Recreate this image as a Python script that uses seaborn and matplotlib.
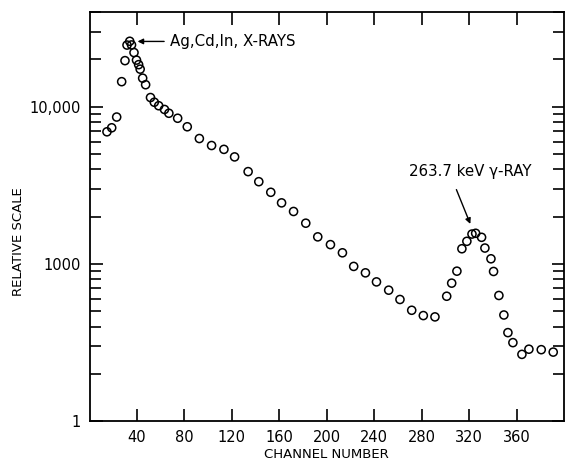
import numpy as np
import pandas as pd
import seaborn as sns
import matplotlib.pyplot as plt
from matplotlib.ticker import LogLocator, NullFormatter

# values
channel = [14.7, 18.7, 22.9, 27.1, 29.9, 31.6, 33.9, 35.4, 37.5, 39.6, 41.4, 42.7, 44.8,
           47.3, 51.4, 54.6, 58.3, 63.2, 66.9, 74.3, 82.4, 92.6, 102.9, 113.3, 122.3,
           133.7, 142.7, 152.8, 161.9, 172, 182.3, 192.4, 203.1, 213.2, 222.7, 232.6,
           241.9, 252.2, 261.7, 271.6, 281.4, 291.2, 301.1, 305.3, 309.7, 313.9, 318.1,
           322.4, 325.5, 330.5, 333.3, 338.4, 340.6, 345.1, 349.3, 352.7, 356.9, 364.5,
           370.4, 380.8, 390.9]
counts = [6930, 7350, 8600, 14430, 19630, 24650, 26060, 24700, 22090, 19780, 18510,
          17330, 15190, 13800, 11440, 10680, 10150, 9610, 9090, 8450, 7460, 6280, 5670,
          5360, 4800, 3870, 3340, 2860, 2450, 2160, 1820, 1490, 1330, 1180, 967, 880,
          771, 683, 596, 509, 471, 462, 625, 757, 902, 1252, 1396, 1552, 1570, 1480,
          1265, 1081, 898, 632, 475, 367, 317, 267, 288, 286, 276]

x_ticks = [40, 80, 120, 160, 200, 240, 280, 320, 360]
y_ticks = [100, 1000, 10000]
y_labels = ["1", "1000", "10,000"]

df = pd.DataFrame({"channel": channel, "counts": counts})

sns.set_style("ticks")
plt.rcParams["font.family"] = ["DejaVu Sans"]
plt.rcParams["text.color"] = "black"
plt.rcParams["axes.labelcolor"] = "black"
plt.rcParams["xtick.color"] = "black"
plt.rcParams["ytick.color"] = "black"

fig = plt.figure(figsize=(5.68, 4.61), dpi=100)
ax = fig.add_axes([0.1576, 0.0857, 0.8354, 0.8883])

sns.scatterplot(data=df, x="channel", y="counts", marker="o", s=34,
                facecolors="none", edgecolor="black", linewidth=1.1, ax=ax)

ax.set_yscale("log")
ax.set_xlim(0, 400)
ax.set_ylim(100, 40000)
ax.set_xticks(x_ticks)
ax.set_xticklabels([str(t) for t in x_ticks])
ax.set_yticks(y_ticks)
ax.set_yticklabels(y_labels)
ax.yaxis.set_minor_locator(LogLocator(base=10, subs=np.arange(2, 10)))
ax.yaxis.set_minor_formatter(NullFormatter())

ax.tick_params(which="both", direction="in", top=True, right=True,
               color="black", labelcolor="black", width=1.2, labelsize=10.5, pad=6)
ax.tick_params(which="major", length=9)
ax.tick_params(which="minor", length=8)
for s in ax.spines.values():
    s.set_linewidth(1.3)
    s.set_color("black")

ax.set_xlabel("CHANNEL NUMBER", fontsize=9.5, labelpad=2)
ax.set_ylabel("RELATIVE SCALE", fontsize=9.5)
ax.yaxis.set_label_coords(-0.135, 0.44)

ax.annotate("Ag,Cd,In, X-RAYS", xy=(40.5, 26000), xytext=(68, 26000),
            fontsize=10.8, va="center", ha="left",
            arrowprops=dict(arrowstyle="-|>", color="black", lw=1, shrinkA=2, shrinkB=0,
                            mutation_scale=8))
ax.annotate("263.7 keV \u03b3-RAY", xy=(321, 1800), xytext=(321, 3900),
            fontsize=10.8, va="center", ha="center",
            arrowprops=dict(arrowstyle="-|>", color="black", lw=1, shrinkA=6, shrinkB=0,
                            mutation_scale=8, relpos=(0.35, 0)))

fig.savefig("out.png", dpi=100)
